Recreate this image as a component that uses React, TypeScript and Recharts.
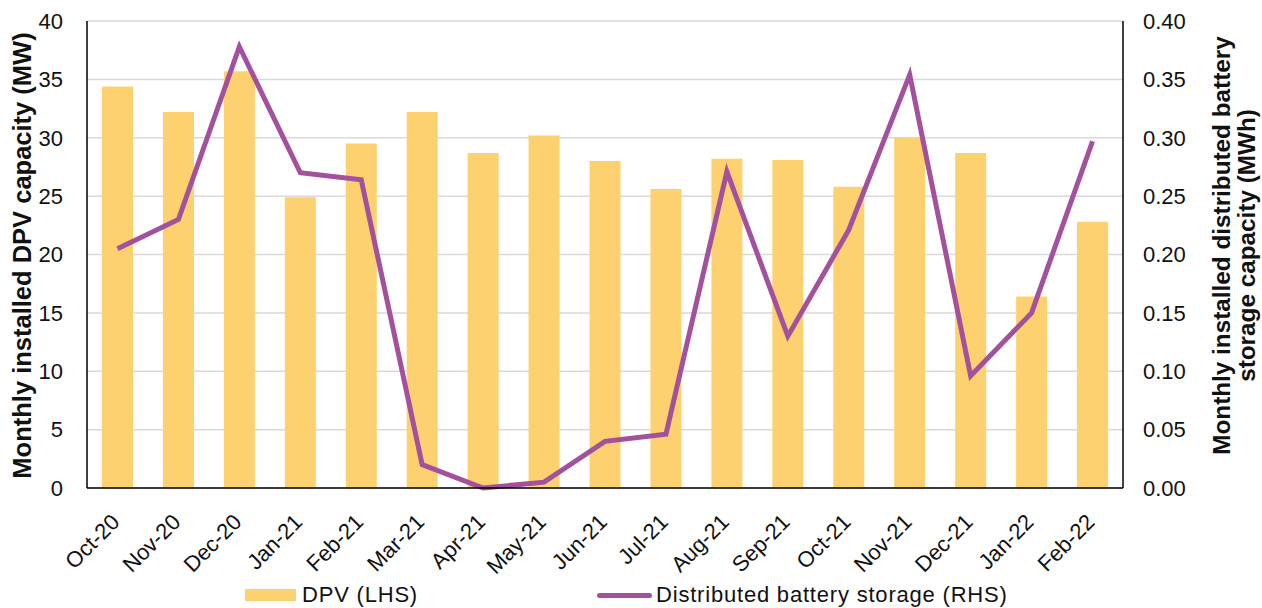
import React from "react";
import { ComposedChart, Bar, Line, XAxis, YAxis, CartesianGrid } from "recharts";

const months = ["Oct-20","Nov-20","Dec-20","Jan-21","Feb-21","Mar-21","Apr-21","May-21","Jun-21","Jul-21","Aug-21","Sep-21","Oct-21","Nov-21","Dec-21","Jan-22","Feb-22"];
const dpvValues = [34.4, 32.2, 35.7, 24.9, 29.5, 32.2, 28.7, 30.2, 28.0, 25.6, 28.2, 28.1, 25.8, 30.0, 28.7, 16.4, 22.8];
const batteryValues = [0.205, 0.230, 0.378, 0.270, 0.264, 0.020, 0.000, 0.005, 0.040, 0.046, 0.271, 0.130, 0.221, 0.354, 0.096, 0.150, 0.297];
const leftTicks = [0, 5, 10, 15, 20, 25, 30, 35, 40];
const rightTicks = [0, 0.05, 0.1, 0.15, 0.2, 0.25, 0.3, 0.35, 0.4];

const data = months.map((m, i) => ({ month: m, dpv: dpvValues[i], battery: batteryValues[i] }));

const FONT = "'Liberation Sans', Arial, sans-serif";
const BAR_COLOR = "#FDD16F";
const LINE_COLOR = "#A3519D";
const TEXT = "#111";

const XTick = (props: any) => {
  const { x, y, payload } = props;
  return (
    <g transform={`translate(${x - 2},${y + 28})`}>
      <text x={0} y={0} dy="0.35em" textAnchor="end" transform="rotate(-45)" fontSize={22} fontFamily={FONT} fill={TEXT}>
        {payload.value}
      </text>
    </g>
  );
};

const LeftLabel = (props: any) => {
  const { viewBox } = props;
  const cy = viewBox.y + viewBox.height / 2 + 1;
  return (
    <text x={22} y={cy} transform={`rotate(-90, 22, ${cy})`} textAnchor="middle" dominantBaseline="central" fontSize={25.5} fontWeight="bold" fontFamily={FONT} fill={TEXT}>
      Monthly installed DPV capacity (MW)
    </text>
  );
};

const RightLabel = (props: any) => {
  const { viewBox } = props;
  const cy = viewBox.y + viewBox.height / 2 - 9;
  return (
    <g>
      <text x={1221} y={cy} transform={`rotate(-90, 1221, ${cy})`} textAnchor="middle" dominantBaseline="central" fontSize={24.3} fontWeight="bold" fontFamily={FONT} fill={TEXT}>
        Monthly installed distributed battery
      </text>
      <text x={1246} y={cy} transform={`rotate(-90, 1246, ${cy})`} textAnchor="middle" dominantBaseline="central" fontSize={24.3} fontWeight="bold" fontFamily={FONT} fill={TEXT}>
        storage capacity (MWh)
      </text>
    </g>
  );
};

export default function App() {
  return (
    <div style={{ position: "absolute", left: 0, top: 0, width: 1262, height: 608, background: "#fff", fontFamily: FONT }}>
      <ComposedChart width={1262} height={608} data={data} margin={{ top: 21, right: 0, left: 0, bottom: 0 }} barSize={31}>
        <CartesianGrid yAxisId="left" vertical={false} stroke="#D9D9D9" strokeWidth={1.5} />
        <XAxis
          dataKey="month"
          height={120}
          interval={0}
          tickLine={false}
          tickSize={0}
          tick={<XTick />}
          axisLine={{ stroke: "#000", strokeWidth: 1.5 }}
        />
        <YAxis
          yAxisId="left"
          orientation="left"
          width={87}
          domain={[0, 40]}
          ticks={leftTicks}
          tickLine={false}
          tickSize={0}
          tickMargin={24}
          tick={{ fontSize: 22, fill: TEXT, fontFamily: FONT }}
          axisLine={{ stroke: "#000", strokeWidth: 1.5 }}
          label={<LeftLabel />}
        />
        <YAxis
          yAxisId="right"
          orientation="right"
          width={139}
          domain={[0, 0.4]}
          ticks={rightTicks}
          tickFormatter={(v: number) => v.toFixed(2)}
          tickLine={false}
          tickSize={0}
          tickMargin={20}
          tick={{ fontSize: 22, fill: TEXT, fontFamily: FONT }}
          axisLine={{ stroke: "#000", strokeWidth: 1.5 }}
          label={<RightLabel />}
        />
        <Bar yAxisId="left" dataKey="dpv" fill={BAR_COLOR} isAnimationActive={false} />
        <Line yAxisId="right" type="linear" dataKey="battery" stroke={LINE_COLOR} strokeWidth={5} dot={false} isAnimationActive={false} />
      </ComposedChart>
      <div style={{ position: "absolute", left: 245, top: 589, width: 51, height: 12, background: BAR_COLOR }} />
      <div style={{ position: "absolute", left: 302, top: 582, fontSize: 22, color: TEXT, lineHeight: "26px", whiteSpace: "nowrap", letterSpacing: 0.8 }}>DPV (LHS)</div>
      <div style={{ position: "absolute", left: 597, top: 593, width: 55, height: 5, borderRadius: 3, background: LINE_COLOR }} />
      <div style={{ position: "absolute", left: 656, top: 582, fontSize: 22, color: TEXT, lineHeight: "26px", whiteSpace: "nowrap", letterSpacing: 0.8 }}>Distributed battery storage (RHS)</div>
    </div>
  );
}
